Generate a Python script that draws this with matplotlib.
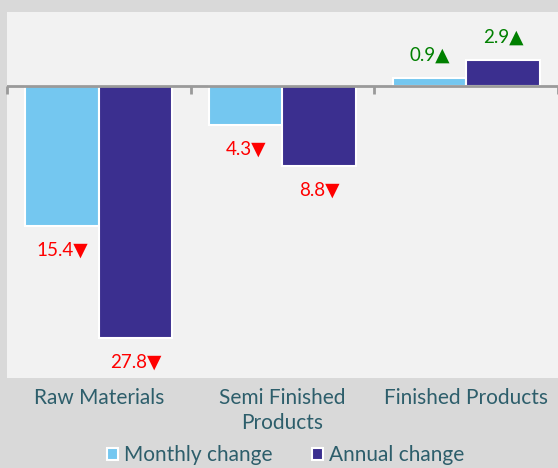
import matplotlib
matplotlib.use("Agg")
import matplotlib.pyplot as plt
import numpy as np
from matplotlib.patches import Patch

categories = ["Raw Materials", "Semi Finished\nProducts", "Finished Products"]
monthly = [-15.4, -4.3, 0.9]
annual = [-27.8, -8.8, 2.9]
series_names = ["Monthly change", "Annual change"]

c_month = "#74c7f0"
c_annual = "#3b2f8f"
text_col = "#2d5e6b"
fam = ["Lato", "DejaVu Sans"]

fig = plt.figure(figsize=(5.58, 4.68), dpi=100)
fig.patch.set_facecolor("#d9d9d9")
ax = fig.add_axes([7/558, 90/468, 551/558, 366/468])
ax.set_facecolor("#f2f2f2")

x = np.arange(len(categories))
w = 0.4
b1 = ax.bar(x - 0.2, monthly, w, color=c_month, edgecolor="white", linewidth=1.5, zorder=3)
b2 = ax.bar(x + 0.2, annual, w, color=c_annual, edgecolor="white", linewidth=1.5, zorder=3)

ymin, ymax = -32.2, 8.15
ax.set_ylim(ymin, ymax)
ax.set_xlim(-0.5, 2.5)

for bars, vals in ((b1, monthly), (b2, annual)):
    for r, v in zip(bars, vals):
        cx = r.get_x() + r.get_width() / 2
        if v < 0:
            ax.annotate(f"{abs(v):.1f}\u25BC", (cx, v), xytext=(0, -17.5), textcoords="offset points",
                        ha="center", va="center", color="#ff0000", fontsize=13.5, family=fam)
        else:
            ax.annotate(f"{v:.1f}\u25B2", (cx, v), xytext=(0, 16.5), textcoords="offset points",
                        ha="center", va="center", color="#008000", fontsize=13.5, family=fam)

for s in ax.spines.values():
    s.set_visible(False)
ax.set_yticks([])
ax.set_xticks(x)
ax.set_xticklabels(categories, fontsize=15, color=text_col, family=fam, linespacing=1.3)
ax.tick_params(axis="x", length=0, pad=7)

# zero axis line with boundary ticks
ax.axhline(0, color="#9a9a9a", linewidth=2, zorder=4)
loc = (0 - ymin) / (ymax - ymin)
sec = ax.secondary_xaxis(loc)
sec.set_xticks([-0.5, 0.5, 1.5, 2.5])
sec.set_xticklabels([])
sec.tick_params(axis="x", which="both", direction="out", length=6, width=2, color="#9a9a9a",
                bottom=True, top=False)
for s in sec.spines.values():
    s.set_visible(False)
sec.set_zorder(4)

handles = [Patch(facecolor=c_month, edgecolor="white", linewidth=1.5),
           Patch(facecolor=c_annual, edgecolor="white", linewidth=1.5)]
leg = fig.legend(handles, series_names, loc="center", bbox_to_anchor=(0.512, 13/468), ncol=2,
                 frameon=False, handlelength=0.5, handleheight=0.5, handletextpad=0.3,
                 columnspacing=1.9, prop={"family": fam, "size": 15})
for t in leg.get_texts():
    t.set_color(text_col)

fig.savefig("out.png", dpi=100, facecolor=fig.get_facecolor())
